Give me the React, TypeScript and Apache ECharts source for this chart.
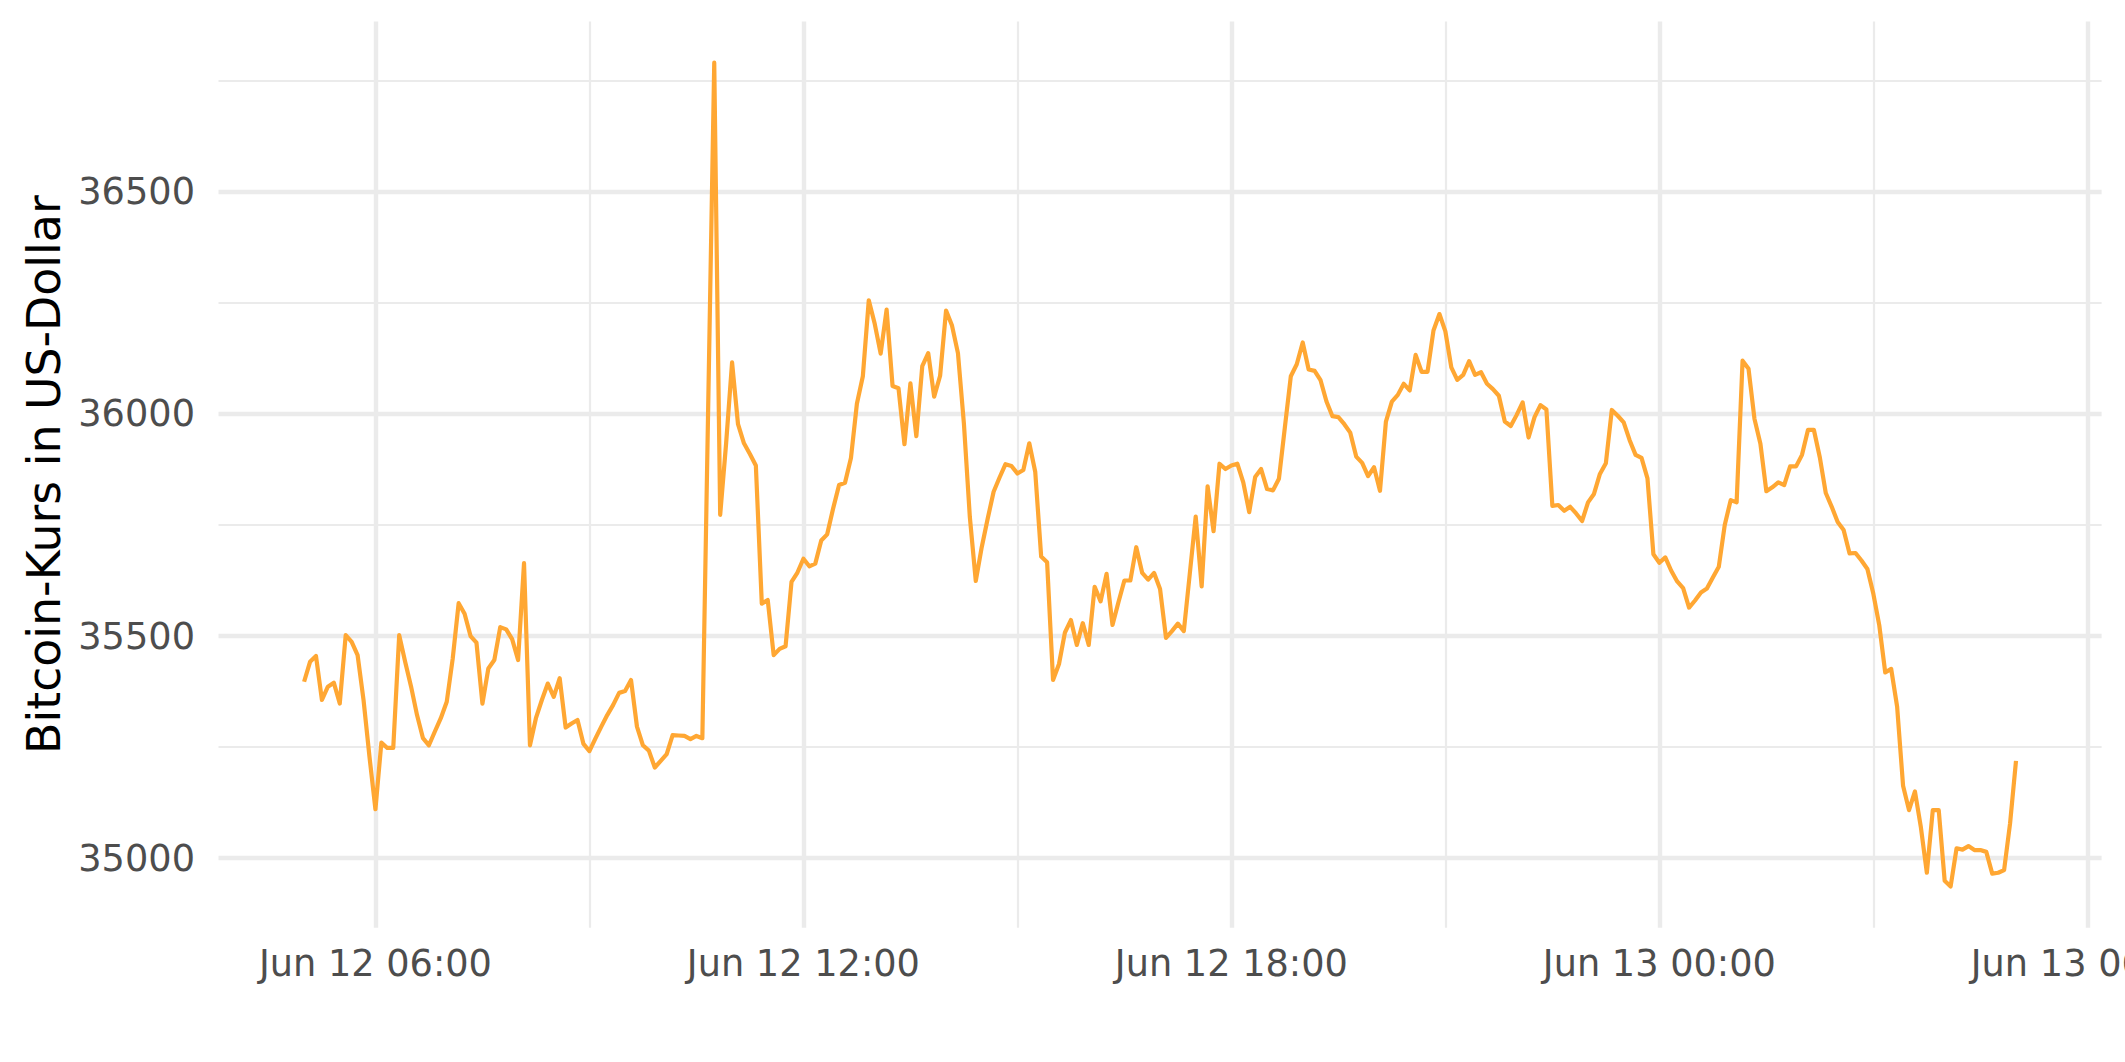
import React, { useEffect, useRef } from "react";
import * as echarts from "echarts";

// Bitcoin price, Jun 12 05:00 to Jun 13 05:00, one value every 5 minutes
const START_HOUR = 5; // hours since Jun 12 00:00
const STEP_MINUTES = 5;
const prices: number[] = [
  35397, 35442, 35455, 35356, 35386, 35395, 35348, 35502, 35487, 35457,
  35356, 35228, 35110, 35260, 35248, 35248, 35502, 35442, 35386, 35322,
  35270, 35254, 35285, 35315, 35352, 35449, 35574, 35550, 35500, 35485,
  35348, 35427, 35446, 35520, 35515, 35493, 35446, 35664, 35254, 35315,
  35356, 35393, 35363, 35405, 35294, 35303, 35311, 35257, 35241, 35269,
  35296, 35322, 35345, 35372, 35376, 35401, 35296, 35254, 35242, 35204,
  35219, 35234, 35277, 35276, 35275, 35268, 35275, 35270, 36030, 36791,
  35773, 35934, 36116, 35977, 35934, 35910, 35884, 35573, 35581, 35457,
  35471, 35477, 35622, 35643, 35674, 35657, 35663, 35715, 35729, 35787,
  35840, 35845, 35901, 36023, 36085, 36256, 36203, 36136, 36235, 36063,
  36058, 35932, 36069, 35950, 36108, 36137, 36039, 36086, 36233, 36199,
  36137, 35979, 35768, 35624, 35700, 35764, 35825, 35857, 35887, 35883,
  35866, 35874, 35934, 35870, 35679, 35666, 35401, 35437, 35508, 35536,
  35480, 35529, 35480, 35611, 35578, 35640, 35525, 35576, 35625, 35625,
  35700, 35642, 35627, 35642, 35606, 35496, 35511, 35528, 35511, 35640,
  35769, 35612, 35837, 35736, 35888, 35876, 35884, 35888, 35846, 35779,
  35858, 35876, 35831, 35828, 35854, 35970, 36085, 36112, 36161, 36100,
  36097, 36076, 36028, 35995, 35993, 35977, 35958, 35904, 35890, 35860,
  35880, 35827, 35983, 36028, 36043, 36068, 36053, 36133, 36095, 36095,
  36188, 36225, 36186, 36105, 36077, 36088, 36119, 36088, 36094, 36068,
  36056, 36041, 35983, 35973, 35998, 36026, 35947, 35993, 36020, 36010,
  35793, 35795, 35782, 35791, 35776, 35759, 35801, 35820, 35865, 35889,
  36009, 35996, 35981, 35941, 35908, 35901, 35855, 35684, 35665, 35677,
  35647, 35623, 35608, 35564, 35580, 35598, 35607, 35632, 35656, 35750,
  35806, 35801, 36120, 36102, 35989, 35933, 35826, 35835, 35846, 35840,
  35882, 35882, 35908, 35964, 35964, 35902, 35822, 35791, 35757, 35739,
  35686, 35687, 35670, 35651, 35595, 35524, 35418, 35426, 35341, 35163,
  35108, 35150, 35069, 34967, 35108, 35108, 34949, 34936, 35022, 35019,
  35027, 35018, 35018, 35014, 34965, 34967, 34973, 35078, 35219,
];

// axis ticks (x in hours since Jun 12 00:00)
const xMajorTicks: number[] = [6, 12, 18, 24, 30];
const xMinorTicks: number[] = [9, 15, 21, 27];
const yMajorTicks: number[] = [35000, 35500, 36000, 36500];
const yMinorTicks: number[] = [35250, 35750, 36250, 36750];

const Y_TITLE = "Bitcoin-Kurs in US-Dollar";
const FONT = "DejaVu Sans";

function fmtX(v: number): string {
  const day = v >= 24 ? 13 : 12;
  const h = Math.round(v) % 24;
  return `Jun ${day} ${String(h).padStart(2, "0")}:00`;
}

function fmtY(v: number): string {
  return String(Math.round(v));
}

export default function App() {
  const ref = useRef<HTMLDivElement>(null);

  useEffect(() => {
    if (!ref.current) return;
    const chart = echarts.init(ref.current, undefined, { renderer: "svg" });

    const points = prices.map((v, i) => [START_HOUR + (i * STEP_MINUTES) / 60, v]);
    const xs = points.map((p) => p[0]);
    const xLo = Math.min(...xs);
    const xHi = Math.max(...xs);
    const yLo = Math.min(...prices);
    const yHi = Math.max(...prices);
    const xPad = (xHi - xLo) * 0.05;
    const yPad = (yHi - yLo) * 0.05;
    const xMin = xLo - xPad;
    const xMax = xHi + xPad;
    const yMin = yLo - yPad;
    const yMax = yHi + yPad;

    const grid = "#EBEBEB";

    chart.setOption({
      animation: false,
      backgroundColor: "#ffffff",
      grid: {
        left: 218.5,
        right: 23.4,
        top: 21.5,
        bottom: 134.3,
        containLabel: false,
        outerBoundsMode: "none",
      },
      xAxis: [
        {
          type: "value",
          min: xMin,
          max: xMax,
          axisLine: { show: false },
          axisTick: { show: false, customValues: xMajorTicks },
          axisLabel: {
            customValues: xMajorTicks,
            formatter: fmtX,
            fontSize: 36.7,
            fontFamily: FONT,
            color: "#4D4D4D",
            margin: 17,
          },
          splitLine: { show: true, lineStyle: { color: grid, width: 4.4 } },
        },
        {
          type: "value",
          min: xMin,
          max: xMax,
          position: "bottom",
          axisLine: { show: false },
          axisTick: { show: false, customValues: xMinorTicks },
          axisLabel: { show: false, customValues: xMinorTicks },
          splitLine: { show: true, lineStyle: { color: grid, width: 2.2 } },
        },
      ],
      yAxis: [
        {
          type: "value",
          min: yMin,
          max: yMax,
          name: Y_TITLE,
          nameLocation: "middle",
          nameGap: 148,
          nameTextStyle: { fontSize: 45.8, fontFamily: FONT, color: "#000000" },
          axisLine: { show: false },
          axisTick: { show: false, customValues: yMajorTicks },
          axisLabel: {
            customValues: yMajorTicks,
            formatter: fmtY,
            fontSize: 36.7,
            fontFamily: FONT,
            color: "#4D4D4D",
            margin: 23.5,
          },
          splitLine: { show: true, lineStyle: { color: grid, width: 4.4 } },
        },
        {
          type: "value",
          min: yMin,
          max: yMax,
          position: "left",
          axisLine: { show: false },
          axisTick: { show: false, customValues: yMinorTicks },
          axisLabel: { show: false, customValues: yMinorTicks },
          splitLine: { show: true, lineStyle: { color: grid, width: 2.2 } },
        },
      ],
      series: [
        {
          type: "line",
          xAxisIndex: 0,
          yAxisIndex: 0,
          data: points,
          showSymbol: false,
          symbol: "none",
          lineStyle: { color: "#FFA733", width: 4.2, join: "round", cap: "butt" },
          z: 5,
        },
      ],
    });

    return () => chart.dispose();
  }, []);

  return (
    <div
      ref={ref}
      style={{ position: "absolute", left: 0, top: 0, width: 2125, height: 1062, background: "#fff" }}
    />
  );
}
